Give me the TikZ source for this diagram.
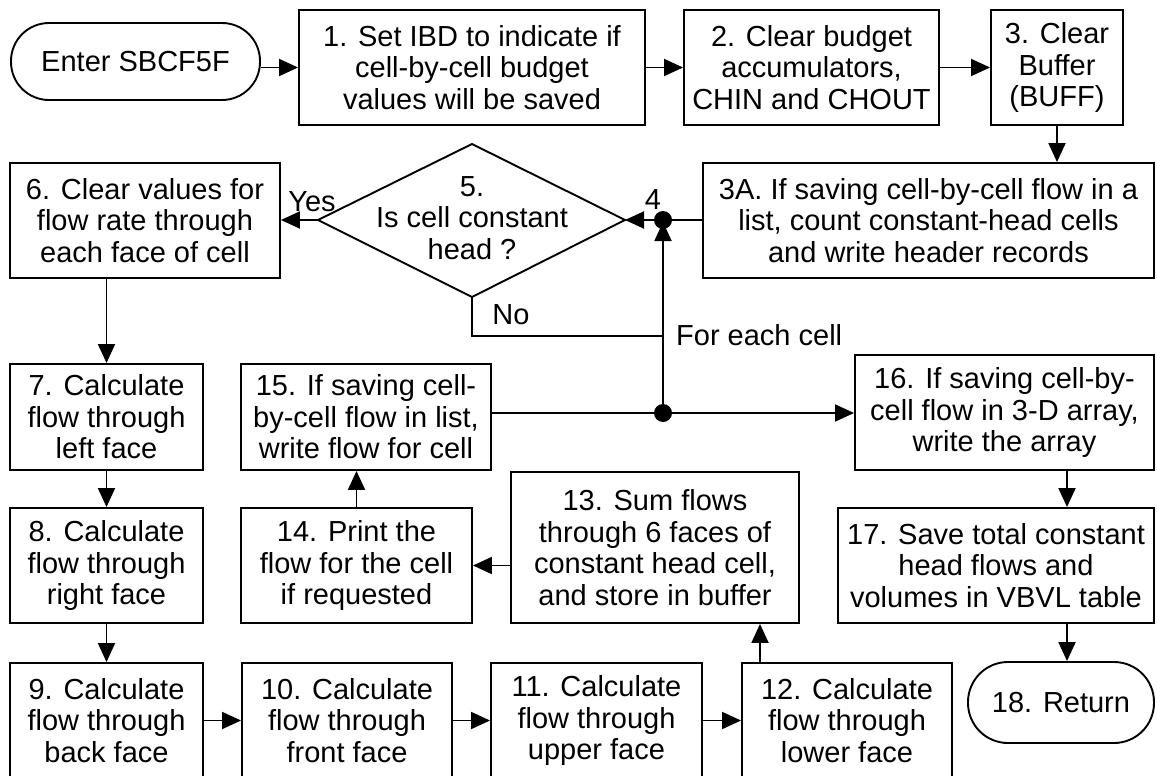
\documentclass[tikz,border=0pt]{standalone}
\usepackage{fontspec}
\setmainfont{Liberation Sans}
\usetikzlibrary{arrows.meta}
\begin{document}
\begin{tikzpicture}[x=1pt,y=-1pt,
  every node/.style={font=\fontsize{29}{31.5}\selectfont},
  box/.style={draw, line width=1.9pt, align=center, inner sep=0pt},
  term/.style={box, rounded corners=38pt},
  conn/.style={line width=1.9pt},
  arr/.style={conn, -{Triangle[length=19pt,width=17pt]}},
  lbl/.style={inner sep=0pt}]
\useasboundingbox (0,0) rectangle (1157,776);

% top row
\node[term, minimum width=249pt, minimum height=77pt] (enter) at (135.5,61.5) {Enter SBCF5F};
\node[box, minimum width=346pt, minimum height=115pt] (b1) at (472,67.5)
  {1. Set IBD to indicate if\\cell-by-cell budget\\values will be saved};
\node[box, minimum width=255pt, minimum height=115pt] (b2) at (811.5,67.5)
  {2. Clear budget\\accumulators,\\CHIN and CHOUT};
\node[box, minimum width=132pt, minimum height=115pt] (b3) at (1057,67.5)
  {3. Clear\\Buffer\\(BUFF)};

% second row
\node[box, minimum width=451pt, minimum height=115pt] (b3a) at (928.5,220.5)
  {3A. If saving cell-by-cell flow in a\\list, count constant-head cells\\and write header records};
\coordinate (d5l) at (318,220);
\coordinate (d5t) at (472,144);
\coordinate (d5r) at (625,220);
\coordinate (d5b) at (472,297);
\draw[line width=1.9pt] (d5l) -- (d5t) -- (d5r) -- (d5b) -- cycle;
\node[align=center, inner sep=0pt] (d5) at (472,218) {5.\\Is cell constant\\head ?};
\node[box, minimum width=270pt, minimum height=115pt] (b6) at (145,220.5)
  {6. Clear values for\\flow rate through\\each face of cell};

% junctions of the cell loop
\coordinate (j4) at (663,220);
\coordinate (j4tip) at (663,222);
\coordinate (jno) at (663,336);
\coordinate (j15) at (663,413);

% third row
\node[box, minimum width=193pt, minimum height=106pt] (b7) at (106.5,417)
  {7. Calculate\\flow through\\left face};
\node[box, minimum width=250pt, minimum height=106pt] (b15) at (366,417)
  {15. If saving cell-\\by-cell flow in list,\\write flow for cell};
\node[box, minimum width=299pt, minimum height=115pt] (b16) at (1004.5,412.5)
  {16. If saving cell-by-\\cell flow in 3-D array,\\write the array};

% fourth row
\node[box, minimum width=193pt, minimum height=115pt] (b8) at (106.5,565.5)
  {8. Calculate\\flow through\\right face};
\node[box, minimum width=231pt, minimum height=115pt] (b14) at (356.5,565.5)
  {14. Print the\\flow for the cell\\if requested};
\node[box, minimum width=288pt, minimum height=151pt] (b13) at (655,547.5)
  {13. Sum flows\\through 6 faces of\\constant head cell,\\and store in buffer};
\node[box, minimum width=316pt, minimum height=115pt] (b17) at (996,565.5)
  {17. Save total constant\\head flows and\\volumes in VBVL table};

% bottom row
\node[box, minimum width=193pt, minimum height=115pt] (b9) at (106.5,720.5)
  {9. Calculate\\flow through\\back face};
\node[box, minimum width=210pt, minimum height=115pt] (b10) at (347,720.5)
  {10. Calculate\\flow through\\front face};
\node[box, minimum width=211pt, minimum height=115pt] (b11) at (596.5,720.5)
  {11. Calculate\\flow through\\upper face};
\node[box, minimum width=210pt, minimum height=115pt] (b12) at (847,720.5)
  {12. Calculate\\flow through\\lower face};
\node[term, rounded corners=40pt, minimum width=186pt, minimum height=81pt] (ret) at (1061,702.5)
  {18. Return};

% labels
\node[lbl] (yes) at (312,202) {Yes};
\node[lbl] (four) at (653,200) {4};
\node[lbl] (no) at (511,315) {No};
\node[lbl, anchor=west] (each) at (676,335) {For each cell};

% connectors
\draw[arr] (enter.east |- b1.west) -- (b1.west);
\draw[arr] (b1.east) -- (b2.west);
\draw[arr] (b2.east) -- (b3.west);
\draw[arr] (b3.south) -- (b3.south |- b3a.north);
\draw[conn] (b3a.west |- j4) -- (j4);
\draw[arr] (j4) -- (d5r);
\draw[arr] (d5l) -- (b6.east |- d5l);
\draw[conn] (d5b) |- (jno);
\draw[arr] (j15) -- (j4tip);
\draw[conn] (b15.east |- j15) -- (j15);
\draw[arr] (j15) -- (j15 -| b16.west);
\draw[arr] (b6.south -| b7.north) -- (b7.north);
\draw[arr] (b7.south) -- (b8.north);
\draw[arr] (b8.south) -- (b9.north);
\draw[arr] (b9.east) -- (b10.west);
\draw[arr] (b10.east) -- (b11.west);
\draw[arr] (b11.east) -- (b12.west);
\coordinate (c12) at (760,0);
\draw[arr] (b12.north -| c12) -- (b13.south -| c12);
\draw[arr] (b14.east -| b13.west) -- (b14.east);
\draw[arr] (b14.north) -- (b14.north |- b15.south);
\coordinate (cR) at (1067,0);
\draw[arr] (b16.south -| cR) -- (b17.north -| cR);
\draw[arr] (b17.south -| cR) -- (ret.north -| cR);

% junction dots
\fill (j4) circle (9pt);
\fill (j15) circle (9pt);
\end{tikzpicture}
\end{document}
